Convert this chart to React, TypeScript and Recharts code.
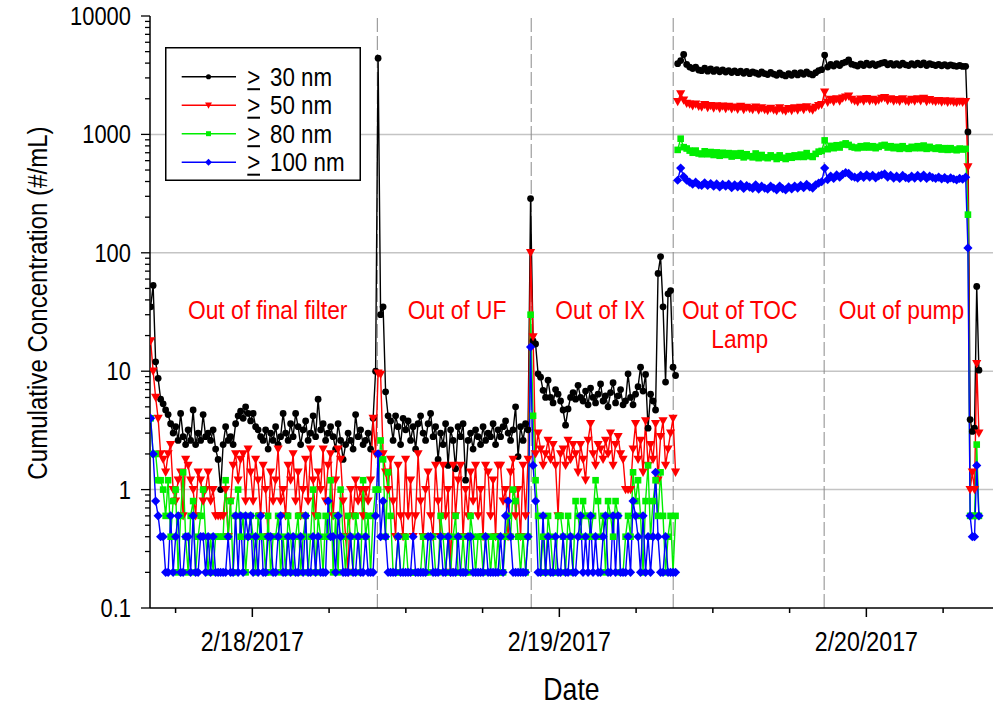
import React from "react";
import {
  LineChart,
  Line,
  XAxis,
  YAxis,
  ReferenceLine,
  ReferenceDot,
  Legend,
} from "recharts";

// the source figure uses a squeezed Arial look
const FONT = "'Liberation Sans', Arial, sans-serif";
const SQUEEZE = 0.86;

// sampling of the counter, hours after 2/18/2017 00:00
const LOW_START = -7.95;
const LOW_STEP = 0.1954;
const HIGH_START = 33.25;
const HIGH_STEP = 0.2345;
const TAIL_START = 55.94;
const TAIL_STEP = 0.172;

// final filter / UF / IX (low range)
const LOW_30 = [
  35, 53, 12, 8.7, 5.8, 5.3, 4.7, 4.3, 3.6, 3.0,
  3.4, 2.6, 4.4, 2.8, 2.4, 3.2, 2.6, 4.7, 2.4, 3.0,
  2.6, 4.3, 2.8, 3.0, 2.6, 3.2, 2.2, 1.8, 1.0, 2.4,
  3.4, 2.6, 2.8, 2.4, 3.6, 4.2, 4.6, 4.0, 5.0, 4.4,
  3.8, 4.4, 3.4, 3.2, 2.8, 2.6, 3.2, 2.2, 3.0, 2.6,
  3.4, 2.4, 2.8, 4.4, 3.0, 2.6, 3.6, 2.8, 4.4, 3.4,
  2.4, 3.2, 3.8, 2.6, 3.0, 4.2, 2.8, 5.8, 3.2, 3.6,
  2.6, 3.0, 3.4, 2.8, 2.2, 3.6, 2.6, 1.8, 2.4, 3.0,
  2.6, 2.2, 4.3, 2.8, 3.2, 2.4, 2.6, 3.0, 2.2, 4.0,
  10, 4400, 30, 35, 6.7, 4.2, 3.8, 2.6, 4.2, 3.4,
  2.4, 4.0, 3.2, 3.8, 2.6, 3.4, 2.2, 3.6, 4.2, 3.0,
  2.6, 3.6, 4.4, 2.8, 3.4, 1.8, 3.0, 2.4, 3.6, 1.6,
  3.2, 2.6, 1.5, 3.4, 2.8, 3.6, 1.2, 2.6, 3.0, 2.2,
  3.2, 2.8, 2.4, 3.4, 2.6, 3.0, 2.8, 3.6, 2.4, 3.2,
  2.8, 3.4, 3.8, 3.0, 2.6, 3.2, 5.0, 1.9, 3.4, 2.6,
  3.6, 3.2, 287, 18, 17, 9.5, 8.9, 6.9, 6.0, 8.4,
  6.0, 5.4, 7.0, 6.4, 5.6, 4.7, 3.5, 4.8, 6.0, 6.6,
  5.8, 7.6, 6.0, 5.6, 6.8, 5.2, 7.2, 6.0, 5.4, 6.4,
  7.8, 5.6, 6.2, 5.0, 6.6, 8.0, 5.4, 6.2, 7.0, 5.2,
  5.6, 9.5, 6.0, 5.2, 6.4, 7.4, 10.8, 6.8, 9.4, 3.3,
  6.4, 5.6, 4.7, 67, 93, 35, 8.1, 45, 48, 10.8,
  9.2,
];
const LOW_50 = [
  18, 10, 6.0, 4.0, 2.0, 1.8, 1.4, 2.0, 2.4, 1.0,
  0.8, 1.2, 1.4, 0.6, 1.8, 1.6, 1.2, 1.0, 0.6, 1.4,
  1.2, 0.8, 1.0, 1.4, 0.8, 1.0, 0.6, 0.6, 0.6, 0.6,
  1.0, 0.4, 0.8, 1.6, 2.0, 1.2, 1.8, 2.0, 0.8, 2.2,
  1.4, 0.8, 1.8, 1.2, 0.6, 1.6, 1.0, 0.4, 1.4, 0.8,
  1.2, 2.2, 0.8, 1.0, 0.6, 1.6, 1.2, 2.0, 0.8, 1.4,
  0.6, 1.0, 1.8, 0.8, 2.2, 1.2, 0.6, 1.4, 1.0, 2.2,
  0.8, 1.6, 2.0, 0.6, 1.2, 2.2, 1.8, 0.8, 0.4, 0.2,
  1.0, 0.6, 1.2, 0.8, 1.0, 0.6, 1.0, 0.8, 1.2, 4.0,
  2.0, 9.6, 9.4, 2.0, 1.4, 1.0, 1.8, 0.8, 0.4, 1.6,
  0.6, 0.4, 1.8, 0.6, 1.2, 0.4, 0.6, 2.0, 0.8, 0.4,
  1.0, 1.4, 0.6, 0.4, 1.6, 0.8, 0.4, 1.6, 0.6, 1.0,
  0.2, 1.6, 0.6, 1.2, 1.6, 0.4, 1.0, 0.6, 1.4, 0.8,
  1.6, 0.6, 1.0, 0.4, 1.6, 1.4, 0.6, 1.2, 0.4, 1.6,
  1.6, 0.8, 1.0, 0.4, 1.4, 1.8, 0.6, 1.0, 0.4, 1.6,
  0.6, 1.8, 100, 19.5, 2.0, 3.0, 2.2, 1.6, 2.0, 2.6,
  1.8, 2.4, 1.6, 0.6, 2.0, 2.2, 1.6, 2.6, 1.8, 2.4,
  2.0, 1.4, 2.4, 1.8, 1.2, 2.6, 3.6, 2.0, 1.6, 2.4,
  2.2, 1.8, 2.6, 2.0, 3.0, 1.6, 2.4, 2.8, 2.0, 1.8,
  1.0, 1.0, 1.0, 2.2, 3.6, 1.8, 2.6, 1.4, 3.8, 1.6,
  2.4, 1.8, 3.6, 1.2, 2.8, 3.8, 1.6, 2.2, 3.0, 4.0,
  1.4,
];
const LOW_80 = [
  4.0, 2.0, 2.0, 1.2, 1.2, 1.0, 0.6, 1.2, 0.4, 0.8,
  1.0, 0.2, 0.6, 1.4, 0.4, 0.2, 0.6, 0.8, 0.2, 0.4,
  0.6, 1.0, 0.4, 0.2, 0.4, 0.2, 0.4, 0.4, 0.4, 0.4,
  1.2, 0.4, 0.8, 0.2, 0.6, 1.0, 0.4, 0.6, 0.2, 0.4,
  0.6, 0.4, 0.2, 0.6, 0.4, 0.4, 0.2, 0.6, 0.2, 0.4,
  0.4, 0.6, 0.2, 0.4, 0.2, 0.6, 0.4, 0.2, 0.4, 0.6,
  0.2, 0.4, 0.6, 0.2, 0.4, 1.0, 0.2, 0.6, 0.4, 0.2,
  0.6, 0.4, 1.2, 0.2, 0.6, 0.2, 1.0, 0.4, 0.2, 0.6,
  0.4, 0.2, 0.6, 0.4, 0.2, 1.2, 0.4, 0.6, 0.2, 0.6,
  1.0, 1.0, 2.6, 1.8, 0.4, 1.4, 0.6, 0.2, 0.2, 0.4,
  0.2, 0.2, 0.4, 0.2, 0.2, 0.2, 0.2, 0.2, 0.2, 0.4,
  0.2, 0.2, 0.4, 0.4, 0.2, 0.2, 0.6, 0.4, 0.2, 0.4,
  0.2, 0.4, 0.6, 0.2, 0.2, 0.4, 0.2, 0.2, 0.6, 0.4,
  0.2, 0.4, 0.4, 0.2, 0.4, 0.4, 0.2, 0.4, 0.2, 0.4,
  0.2, 0.2, 0.4, 0.6, 0.4, 1.0, 0.8, 0.4, 0.2, 0.4,
  0.2, 0.4, 30, 4.2, 1.2, 0.6, 0.2, 0.4, 0.2, 0.6,
  0.4, 0.2, 0.2, 0.6, 0.6, 0.4, 0.2, 0.6, 0.4, 0.2,
  0.8, 0.6, 0.4, 0.8, 0.6, 0.6, 0.4, 0.6, 1.2, 0.8,
  0.4, 0.6, 0.2, 0.8, 0.6, 0.4, 0.8, 0.6, 0.2, 0.2,
  0.4, 0.6, 0.4, 1.4, 0.8, 1.2, 0.6, 0.2, 0.8, 1.6,
  0.4, 0.8, 1.2, 0.6, 1.4, 0.6, 0.2, 0.4, 0.6, 0.2,
  0.6,
];
const LOW_100 = [
  4.0, 2.0, 0.8, 0.6, 0.4, 0.4, 0.2, 0.2, 0.6, 0.2,
  0.4, 0.6, 0.2, 0.2, 0.4, 0.4, 0.2, 0.6, 0.2, 0.2,
  0.4, 0.4, 0.2, 0.4, 0.2, 0.4, 0.2, 0.2, 0.2, 0.2,
  0.2, 0.4, 0.2, 0.2, 0.6, 0.2, 0.6, 0.2, 0.6, 0.4,
  0.6, 0.2, 0.4, 0.2, 0.6, 0.2, 0.2, 0.4, 0.4, 0.2,
  0.2, 0.4, 0.6, 0.2, 0.2, 0.4, 0.2, 0.4, 0.2, 0.2,
  0.4, 0.2, 0.6, 0.2, 0.2, 0.4, 0.2, 0.4, 0.2, 0.2,
  0.2, 0.8, 0.4, 0.4, 0.2, 0.6, 0.4, 0.2, 0.2, 0.2,
  0.4, 0.2, 0.2, 0.4, 0.2, 0.2, 0.4, 0.2, 0.2, 0.2,
  0.6, 2.0, 0.4, 0.8, 0.4, 0.2, 0.2, 0.2, 0.2, 0.4,
  0.2, 0.2, 0.2, 0.2, 0.2, 0.4, 0.2, 0.2, 0.2, 0.2,
  0.2, 0.4, 0.4, 0.2, 0.2, 0.2, 0.4, 0.2, 0.2, 0.4,
  0.2, 0.2, 0.2, 0.4, 0.2, 0.2, 0.2, 0.4, 0.4, 0.2,
  0.2, 0.2, 0.2, 0.2, 0.4, 0.2, 0.2, 0.2, 0.2, 0.2,
  0.4, 0.2, 0.6, 0.8, 0.4, 0.2, 0.2, 0.2, 0.2, 0.2,
  0.2, 0.4, 16, 1.6, 0.8, 0.2, 0.2, 0.6, 0.2, 0.4,
  0.2, 0.2, 0.4, 0.2, 0.2, 0.4, 0.2, 0.2, 0.4, 0.2,
  0.2, 0.4, 0.6, 0.2, 0.4, 0.2, 0.6, 0.2, 0.4, 0.2,
  0.2, 0.4, 0.6, 0.2, 0.2, 0.6, 0.2, 0.6, 0.2, 0.2,
  0.2, 0.4, 0.2, 0.8, 0.6, 0.4, 0.2, 0.6, 0.2, 0.4,
  0.2, 0.4, 1.4, 0.4, 0.2, 0.2, 0.4, 0.2, 0.2, 0.2,
  0.2,
];

// TOC lamp / pump (high range)
const HIGH_30 = [
  3960, 4200, 4730, 3900, 3700, 3600, 3700, 3500, 3450, 3620,
  3420, 3580, 3400, 3520, 3380, 3500, 3360, 3460, 3330, 3440,
  3320, 3420, 3280, 3400, 3260, 3380, 3300, 3220, 3380, 3260,
  3200, 3340, 3230, 3160, 3300, 3180, 3120, 3260, 3160, 3300,
  3180, 3320, 3220, 3380, 3240, 3180, 3320, 3460, 3520,
  4680, 3700, 3900, 3780, 3950, 3820, 4000, 4080, 4250, 3920,
  3850, 3780, 3940, 3820, 4000, 3850, 3960, 3820, 3920, 4000,
  4050, 3870, 3980, 3840, 3950, 3830, 3990, 3870, 3810, 3960,
  3850, 3990, 3870, 4020, 3820, 3950, 3880, 3820, 3900, 3800,
  3890, 3780, 3870, 3800, 3760, 3820, 3750, 3760,
];
const HIGH_50 = [
  1890, 2200, 1950, 1830, 1800, 1740, 1800, 1720, 1700, 1780,
  1680, 1750, 1670, 1740, 1660, 1730, 1650, 1720, 1640, 1700,
  1630, 1720, 1620, 1690, 1650, 1620, 1700, 1600, 1670, 1620,
  1590, 1660, 1610, 1580, 1670, 1600, 1570, 1650, 1590, 1670,
  1600, 1690, 1620, 1710, 1640, 1600, 1690, 1750, 1780,
  2270, 1860, 1970, 1890, 1990, 1910, 2020, 2060, 2100, 1970,
  1920, 1880, 1980, 1910, 2000, 1920, 1970, 1900, 1950, 2010,
  2040, 1930, 1990, 1910, 1960, 1900, 1990, 1920, 1890, 1970,
  1910, 1990, 1920, 2010, 1890, 1960, 1920, 1890, 1930, 1870,
  1920, 1860, 1910, 1870, 1850, 1900, 1860, 1890,
];
const HIGH_80 = [
  740, 920, 780, 760, 730, 700, 730, 690, 680, 720,
  680, 710, 670, 705, 660, 700, 670, 695, 650, 690,
  660, 695, 640, 680, 655, 640, 690, 630, 670, 640,
  630, 665, 645, 620, 665, 635, 620, 655, 635, 665,
  645, 675, 645, 695, 655, 645, 685, 715, 725,
  890, 750, 800, 765, 810, 775, 820, 840, 815, 785,
  775, 765, 795, 775, 805, 775, 795, 765, 785, 805,
  815, 775, 795, 765, 785, 755, 795, 765, 755, 785,
  765, 795, 765, 805, 755, 785, 765, 755, 775, 745,
  765, 740, 765, 745, 735, 760, 745, 755,
];
const HIGH_100 = [
  410, 520, 440, 410, 395, 380, 395, 375, 370, 390,
  370, 385, 365, 382, 360, 378, 365, 380, 355, 375,
  360, 378, 350, 370, 358, 350, 375, 345, 365, 352,
  345, 365, 352, 340, 366, 348, 340, 360, 346, 366,
  352, 372, 355, 378, 360, 352, 375, 388, 398,
  520, 415, 445, 425, 455, 435, 460, 475, 468, 442,
  436, 428, 450, 434, 456, 436, 452, 430, 446, 456,
  464, 436, 452, 428, 444, 424, 450, 432, 424, 444,
  428, 450, 430, 454, 424, 444, 432, 424, 436, 420,
  432, 416, 430, 420, 412, 426, 418, 435,
];

// after the pump run
const TAIL_30 = [1050, 3.9, 3.1, 3.3, 52, 10.2];
const TAIL_50 = [530, 1.0, 1.4, 1.0, 11.6, 3.0];
const TAIL_80 = [210, 0.6, 0.6, 0.6, 2.4, 0.6];
const TAIL_100 = [110, 0.6, 0.4, 0.4, 1.6, 0.6];

const SECTION_BREAKS = [9.77, 21.8, 32.9, 44.7];

const X_TICKS = [-6, 0, 6, 12, 18, 24, 30, 36, 42, 48, 54];
const X_MAJOR = [0, 24, 48];
const X_LABELS = ["2/18/2017", "2/19/2017", "2/20/2017"];

const Y_MAJOR = [0.1, 1, 10, 100, 1000, 10000];
const Y_LABELS = ["0.1", "1", "10", "100", "1000", "10000"];
const Y_TICKS: number[] = [];
Y_MAJOR.forEach((d, k) => {
  Y_TICKS.push(d);
  if (k < Y_MAJOR.length - 1) for (let m = 2; m <= 9; m++) Y_TICKS.push(m * d);
});

const SERIES = [
  { key: "s30", name: "30 nm", color: "#000000", marker: "circle" },
  { key: "s50", name: "50 nm", color: "#ff0000", marker: "tri" },
  { key: "s80", name: "80 nm", color: "#00ee00", marker: "square" },
  { key: "s100", name: "100 nm", color: "#0000ff", marker: "diamond" },
];

const NOTES = [
  { t: 1.2, v: 33.3, text: "Out of final filter" },
  { t: 16.0, v: 33.3, text: "Out of UF" },
  { t: 27.2, v: 33.3, text: "Out of IX" },
  { t: 38.1, v: 33.3, text: "Out of TOC" },
  { t: 38.1, v: 19.0, text: "Lamp" },
  { t: 50.75, v: 33.3, text: "Out of pump" },
];

const ROWS: any[] = [];
LOW_30.forEach((v, i) =>
  ROWS.push({ t: LOW_START + i * LOW_STEP, s30: v, s50: LOW_50[i], s80: LOW_80[i], s100: LOW_100[i] })
);
ROWS.push({ t: 33.17, s30: null, s50: null, s80: null, s100: null });
HIGH_30.forEach((v, i) =>
  ROWS.push({ t: HIGH_START + i * HIGH_STEP, s30: v, s50: HIGH_50[i], s80: HIGH_80[i], s100: HIGH_100[i] })
);
TAIL_30.forEach((v, i) =>
  ROWS.push({ t: TAIL_START + i * TAIL_STEP, s30: v, s50: TAIL_50[i], s80: TAIL_80[i], s100: TAIL_100[i] })
);

// squeezed text
const NText = ({ x, y, size, anchor = "start", fill = "#000", rotate = 0, children }: any) => (
  <text
    transform={`translate(${x},${y}) rotate(${rotate}) scale(${SQUEEZE},1)`}
    x={0}
    y={0}
    textAnchor={anchor}
    fontSize={size}
    fontFamily={FONT}
    fill={fill}
  >
    {children}
  </text>
);

const Marker = ({ kind, cx, cy, color, s }: any) => {
  if (kind === "circle") return <circle cx={cx} cy={cy} r={3.4 * s} fill={color} />;
  if (kind === "tri") {
    const w = 4.6 * s;
    return (
      <polygon
        points={`${cx - w},${cy - w * 0.8} ${cx + w},${cy - w * 0.8} ${cx},${cy + w}`}
        fill={color}
      />
    );
  }
  if (kind === "square") {
    const h = 3.3 * s;
    return <rect x={cx - h} y={cy - h} width={2 * h} height={2 * h} fill={color} />;
  }
  const d = 4.6 * s;
  return (
    <polygon
      points={`${cx},${cy - d} ${cx + d},${cy} ${cx},${cy + d} ${cx - d},${cy}`}
      fill={color}
    />
  );
};

const makeDot = (kind: string, color: string) => (p: any) => {
  const key = `${kind}-${p.index}`;
  if (p.cx == null || p.cy == null || isNaN(p.cx) || isNaN(p.cy) || p.value == null)
    return <g key={key} />;
  return <Marker key={key} kind={kind} cx={p.cx} cy={p.cy} color={color} s={1} />;
};

const BottomTick = ({ x, y, payload }: any) => {
  const idx = X_MAJOR.indexOf(payload.value);
  return (
    <g>
      <line x1={x} x2={x} y1={y} y2={y + (idx >= 0 ? 9 : 5)} stroke="#000" strokeWidth={1.5} />
      {idx >= 0 && (
        <NText x={x} y={y + 43} size={27} anchor="middle">
          {X_LABELS[idx]}
        </NText>
      )}
    </g>
  );
};

const TopTick = ({ x, y, payload }: any) => {
  const major = X_MAJOR.includes(payload.value);
  return <line x1={x} x2={x} y1={y} y2={y + (major ? 9 : 5)} stroke="#000" strokeWidth={1.5} />;
};

const LeftTick = ({ x, y, payload }: any) => {
  const idx = Y_MAJOR.indexOf(payload.value);
  return (
    <g>
      <line x1={x - (idx >= 0 ? 9 : 5)} x2={x} y1={y} y2={y} stroke="#000" strokeWidth={1.3} />
      {idx >= 0 && (
        <NText x={x - 19} y={y + 9} size={25.5} anchor="end">
          {Y_LABELS[idx]}
        </NText>
      )}
    </g>
  );
};

const RightTick = ({ x, y, payload }: any) => {
  const major = Y_MAJOR.includes(payload.value);
  return <line x1={x - (major ? 8 : 5)} x2={x} y1={y} y2={y} stroke="#000" strokeWidth={1.3} />;
};

const DateTitle = ({ viewBox }: any) => (
  <NText x={viewBox.x + viewBox.width / 2} y={viewBox.y + 92} size={31} anchor="middle">
    Date
  </NText>
);

const YTitle = ({ viewBox }: any) => (
  <NText x={viewBox.x + 47} y={viewBox.y + viewBox.height / 2 - 9} size={28} anchor="middle" rotate={-90}>
    Cumulative Concentration (#/mL)
  </NText>
);

const NoteLabel = ({ viewBox, text }: any) => {
  const cx = viewBox.x + (viewBox.width || 0) / 2;
  const cy = viewBox.y + (viewBox.height || 0) / 2;
  return (
    <NText x={cx} y={cy + 9.4} size={26.5} anchor="middle" fill="#ff0000">
      {text}
    </NText>
  );
};

const LegendBox = () => (
  <svg width={196} height={134} style={{ display: "block" }}>
    <rect x={0.75} y={0.75} width={194.5} height={132.5} fill="#fff" stroke="#000" strokeWidth={1.5} />
    {SERIES.map((s, k) => {
      const cy = 29.7 + k * 28.5;
      return (
        <g key={s.key}>
          <line x1={16.7} x2={71} y1={cy} y2={cy} stroke={s.color} strokeWidth={1.4} />
          <Marker kind={s.marker} cx={43.5} cy={cy} color={s.color} s={0.75} />
          <NText x={82.3} y={cy + 9.2} size={26}>
            &gt;
          </NText>
          <line x1={82.3} x2={95} y1={cy + 12.5} y2={cy + 12.5} stroke="#000" strokeWidth={2} />
          <NText x={105} y={cy + 9.2} size={26}>
            {s.name}
          </NText>
        </g>
      );
    })}
  </svg>
);

export default function App() {
  return (
    <div style={{ position: "absolute", left: 0, top: 0, background: "#fff" }}>
      <LineChart
        width={999}
        height={706}
        data={ROWS}
        margin={{ top: 16, right: 6, bottom: 0, left: 0 }}
      >
        <XAxis
          xAxisId="b"
          dataKey="t"
          type="number"
          domain={[-8, 57.9]}
          allowDataOverflow
          ticks={X_TICKS}
          interval={0}
          tickSize={0}
          tickMargin={0}
          tickLine={false}
          tick={<BottomTick />}
          height={98}
          axisLine={{ stroke: "#000", strokeWidth: 1.5 }}
          label={<DateTitle />}
        />
        <XAxis
          xAxisId="t"
          orientation="top"
          dataKey="t"
          type="number"
          domain={[-8, 57.9]}
          allowDataOverflow
          ticks={X_TICKS}
          interval={0}
          tickSize={0}
          tickMargin={0}
          tickLine={false}
          tick={<TopTick />}
          height={0}
          axisLine={{ stroke: "#000", strokeWidth: 1.5 }}
        />
        <YAxis
          yAxisId="l"
          type="number"
          scale="log"
          domain={[0.1, 10000]}
          allowDataOverflow
          ticks={Y_TICKS}
          interval={0}
          tickSize={0}
          tickMargin={0}
          tickLine={false}
          tick={<LeftTick />}
          width={150}
          axisLine={{ stroke: "#000", strokeWidth: 1.5 }}
          label={<YTitle />}
        />
        <YAxis
          yAxisId="r"
          orientation="right"
          type="number"
          scale="log"
          domain={[0.1, 10000]}
          allowDataOverflow
          ticks={Y_TICKS}
          interval={0}
          tickSize={0}
          tickMargin={0}
          tickLine={false}
          tick={<RightTick />}
          width={0}
          axisLine={{ stroke: "#000", strokeWidth: 1.5 }}
        />

        {[1, 10, 100, 1000].map((v) => (
          <ReferenceLine key={`g${v}`} xAxisId="b" yAxisId="l" y={v} stroke="#c4c4c4" strokeWidth={1.5} />
        ))}
        {SECTION_BREAKS.map((t) => (
          <ReferenceLine
            key={`s${t}`}
            xAxisId="b"
            yAxisId="l"
            x={t}
            stroke="#8a8a8a"
            strokeWidth={1}
            strokeDasharray="14 4"
          />
        ))}

        {SERIES.map((s) => (
          <Line
            key={s.key}
            xAxisId="b"
            yAxisId="l"
            type="linear"
            dataKey={s.key}
            name={s.name}
            stroke={s.color}
            strokeWidth={1.4}
            dot={makeDot(s.marker, s.color)}
            activeDot={false}
            isAnimationActive={false}
          />
        ))}

        {NOTES.map((n) => (
          <ReferenceDot
            key={n.text}
            xAxisId="b"
            yAxisId="l"
            x={n.t}
            y={n.v}
            r={0}
            fill="none"
            stroke="none"
            label={<NoteLabel text={n.text} />}
          />
        ))}

        <Legend
          layout="vertical"
          align="center"
          verticalAlign="middle"
          wrapperStyle={{ position: "absolute", left: 165, top: 47, width: 196, height: 134 }}
          content={() => <LegendBox />}
        />
      </LineChart>
    </div>
  );
}
